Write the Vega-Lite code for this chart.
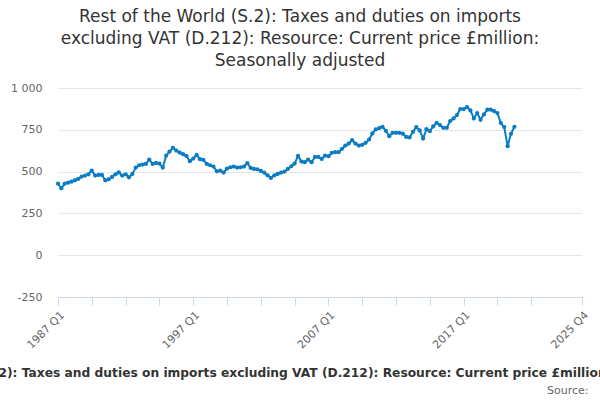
{
  "$schema": "https://vega.github.io/schema/vega-lite/v6.json",
  "autosize": {"type": "none"},
  "width": 524,
  "height": 209,
  "padding": {"left": 58, "top": 88, "right": 18, "bottom": 103},
  "background": "white",
  "title": {
    "text": [
      "Rest of the World (S.2): Taxes and duties on imports",
      "excluding VAT (D.212): Resource: Current price £million:",
      "Seasonally adjusted"
    ],
    "font": "DejaVu Sans",
    "fontSize": 17,
    "fontWeight": "normal",
    "color": "#333333",
    "lineHeight": 22,
    "anchor": "middle",
    "frame": "group",
    "dx": -20,
    "offset": 12
  },
  "data": {
    "values": [
      {"date": "1987-01", "value": 428}, {"date": "1987-04", "value": 400}, {"date": "1987-07", "value": 428}, {"date": "1987-10", "value": 434},
      {"date": "1988-01", "value": 440}, {"date": "1988-04", "value": 448}, {"date": "1988-07", "value": 456}, {"date": "1988-10", "value": 470},
      {"date": "1989-01", "value": 476}, {"date": "1989-04", "value": 484}, {"date": "1989-07", "value": 506}, {"date": "1989-10", "value": 476},
      {"date": "1990-01", "value": 480}, {"date": "1990-04", "value": 480}, {"date": "1990-07", "value": 448}, {"date": "1990-10", "value": 454},
      {"date": "1991-01", "value": 468}, {"date": "1991-04", "value": 484}, {"date": "1991-07", "value": 496}, {"date": "1991-10", "value": 476},
      {"date": "1992-01", "value": 484}, {"date": "1992-04", "value": 466}, {"date": "1992-07", "value": 486}, {"date": "1992-10", "value": 524},
      {"date": "1993-01", "value": 538}, {"date": "1993-04", "value": 542}, {"date": "1993-07", "value": 546}, {"date": "1993-10", "value": 572},
      {"date": "1994-01", "value": 546}, {"date": "1994-04", "value": 552}, {"date": "1994-07", "value": 548}, {"date": "1994-10", "value": 524},
      {"date": "1995-01", "value": 596}, {"date": "1995-04", "value": 620}, {"date": "1995-07", "value": 642}, {"date": "1995-10", "value": 626},
      {"date": "1996-01", "value": 614}, {"date": "1996-04", "value": 604}, {"date": "1996-07", "value": 594}, {"date": "1996-10", "value": 562},
      {"date": "1997-01", "value": 578}, {"date": "1997-04", "value": 600}, {"date": "1997-07", "value": 574}, {"date": "1997-10", "value": 570},
      {"date": "1998-01", "value": 546}, {"date": "1998-04", "value": 538}, {"date": "1998-07", "value": 530}, {"date": "1998-10", "value": 502},
      {"date": "1999-01", "value": 506}, {"date": "1999-04", "value": 494}, {"date": "1999-07", "value": 518}, {"date": "1999-10", "value": 526},
      {"date": "2000-01", "value": 530}, {"date": "2000-04", "value": 524}, {"date": "2000-07", "value": 526}, {"date": "2000-10", "value": 530},
      {"date": "2001-01", "value": 550}, {"date": "2001-04", "value": 522}, {"date": "2001-07", "value": 516}, {"date": "2001-10", "value": 514},
      {"date": "2002-01", "value": 504}, {"date": "2002-04", "value": 494}, {"date": "2002-07", "value": 478}, {"date": "2002-10", "value": 462},
      {"date": "2003-01", "value": 478}, {"date": "2003-04", "value": 486}, {"date": "2003-07", "value": 494}, {"date": "2003-10", "value": 500},
      {"date": "2004-01", "value": 516}, {"date": "2004-04", "value": 532}, {"date": "2004-07", "value": 548}, {"date": "2004-10", "value": 594},
      {"date": "2005-01", "value": 560}, {"date": "2005-04", "value": 556}, {"date": "2005-07", "value": 572}, {"date": "2005-10", "value": 556},
      {"date": "2006-01", "value": 588}, {"date": "2006-04", "value": 588}, {"date": "2006-07", "value": 576}, {"date": "2006-10", "value": 596},
      {"date": "2007-01", "value": 592}, {"date": "2007-04", "value": 612}, {"date": "2007-07", "value": 616}, {"date": "2007-10", "value": 616},
      {"date": "2008-01", "value": 636}, {"date": "2008-04", "value": 656}, {"date": "2008-07", "value": 668}, {"date": "2008-10", "value": 688},
      {"date": "2009-01", "value": 668}, {"date": "2009-04", "value": 656}, {"date": "2009-07", "value": 660}, {"date": "2009-10", "value": 672},
      {"date": "2010-01", "value": 692}, {"date": "2010-04", "value": 728}, {"date": "2010-07", "value": 752}, {"date": "2010-10", "value": 760},
      {"date": "2011-01", "value": 768}, {"date": "2011-04", "value": 744}, {"date": "2011-07", "value": 712}, {"date": "2011-10", "value": 732},
      {"date": "2012-01", "value": 732}, {"date": "2012-04", "value": 732}, {"date": "2012-07", "value": 727}, {"date": "2012-10", "value": 707},
      {"date": "2013-01", "value": 704}, {"date": "2013-04", "value": 738}, {"date": "2013-07", "value": 766}, {"date": "2013-10", "value": 746},
      {"date": "2014-01", "value": 698}, {"date": "2014-04", "value": 754}, {"date": "2014-07", "value": 742}, {"date": "2014-10", "value": 770},
      {"date": "2015-01", "value": 792}, {"date": "2015-04", "value": 778}, {"date": "2015-07", "value": 762}, {"date": "2015-10", "value": 762},
      {"date": "2016-01", "value": 802}, {"date": "2016-04", "value": 818}, {"date": "2016-07", "value": 838}, {"date": "2016-10", "value": 874},
      {"date": "2017-01", "value": 874}, {"date": "2017-04", "value": 886}, {"date": "2017-07", "value": 866}, {"date": "2017-10", "value": 818},
      {"date": "2018-01", "value": 850}, {"date": "2018-04", "value": 810}, {"date": "2018-07", "value": 842}, {"date": "2018-10", "value": 870},
      {"date": "2019-01", "value": 870}, {"date": "2019-04", "value": 862}, {"date": "2019-07", "value": 850}, {"date": "2019-10", "value": 790},
      {"date": "2020-01", "value": 766}, {"date": "2020-04", "value": 652}, {"date": "2020-07", "value": 726}, {"date": "2020-10", "value": 768}
    ]
  },
  "mark": {
    "type": "line",
    "color": "#0b7cc2",
    "strokeWidth": 2,
    "point": {"filled": true, "size": 18, "color": "#0b7cc2"}
  },
  "encoding": {
    "x": {
      "field": "date",
      "type": "temporal",
      "scale": {
        "type": "utc",
        "domain": [
          {"year": 1987, "month": 1, "date": 1, "utc": true},
          {"year": 2025, "month": 10, "date": 1, "utc": true}
        ]
      },
      "axis": {
        "values": [
          {"year": 1987, "month": 1, "date": 1, "utc": true},
          {"year": 1989, "month": 7, "date": 1, "utc": true},
          {"year": 1992, "month": 1, "date": 1, "utc": true},
          {"year": 1994, "month": 7, "date": 1, "utc": true},
          {"year": 1997, "month": 1, "date": 1, "utc": true},
          {"year": 1999, "month": 7, "date": 1, "utc": true},
          {"year": 2002, "month": 1, "date": 1, "utc": true},
          {"year": 2004, "month": 7, "date": 1, "utc": true},
          {"year": 2007, "month": 1, "date": 1, "utc": true},
          {"year": 2009, "month": 7, "date": 1, "utc": true},
          {"year": 2012, "month": 1, "date": 1, "utc": true},
          {"year": 2014, "month": 7, "date": 1, "utc": true},
          {"year": 2017, "month": 1, "date": 1, "utc": true},
          {"year": 2019, "month": 7, "date": 1, "utc": true},
          {"year": 2022, "month": 1, "date": 1, "utc": true},
          {"year": 2025, "month": 10, "date": 1, "utc": true}
        ],
        "labelExpr": "(utcmonth(datum.value) == 0 && (utcyear(datum.value) - 1987) % 10 == 0) || utcyear(datum.value) == 2025 ? utcFormat(datum.value, '%Y') + ' Q' + utcquarter(datum.value) : ''",
        "labelAngle": -45,
        "labelOverlap": false,
        "labelFlush": false,
        "labelBound": false,
        "labelFont": "DejaVu Sans",
        "labelFontSize": 11,
        "labelColor": "#666666",
        "labelPadding": 4,
        "grid": false,
        "domainColor": "#ccd6eb",
        "tickColor": "#ccd6eb",
        "tickSize": 8,
        "title": "Rest of the World (S.2): Taxes and duties on imports excluding VAT (D.212): Resource: Current price £million: Seasonally adjusted",
        "titleFont": "DejaVu Sans",
        "titleFontSize": 12.25,
        "titleFontWeight": "bold",
        "titleColor": "#333333",
        "titleAlign": "center",
        "titleBaseline": "alphabetic",
        "titleX": 246,
        "titleY": 79
      }
    },
    "y": {
      "field": "value",
      "type": "quantitative",
      "scale": {"domain": [-250, 1000], "nice": false, "zero": false},
      "axis": {
        "values": [-250, 0, 250, 500, 750, 1000],
        "labelExpr": "datum.value >= 1000 ? replace(format(datum.value, ','), ',', ' ') : '' + datum.value",
        "labelFont": "DejaVu Sans",
        "labelFontSize": 11,
        "labelColor": "#666666",
        "labelPadding": 16,
        "domain": false,
        "ticks": false,
        "grid": true,
        "gridColor": "#e6e6e6",
        "gridWidth": 1,
        "title": "Source:",
        "titleFont": "DejaVu Sans",
        "titleFontSize": 11,
        "titleFontWeight": "normal",
        "titleColor": "#666666",
        "titleAngle": 0,
        "titleAlign": "right",
        "titleBaseline": "alphabetic",
        "titleX": 530,
        "titleY": 305
      }
    }
  },
  "config": {
    "view": {"stroke": null}
  }
}
